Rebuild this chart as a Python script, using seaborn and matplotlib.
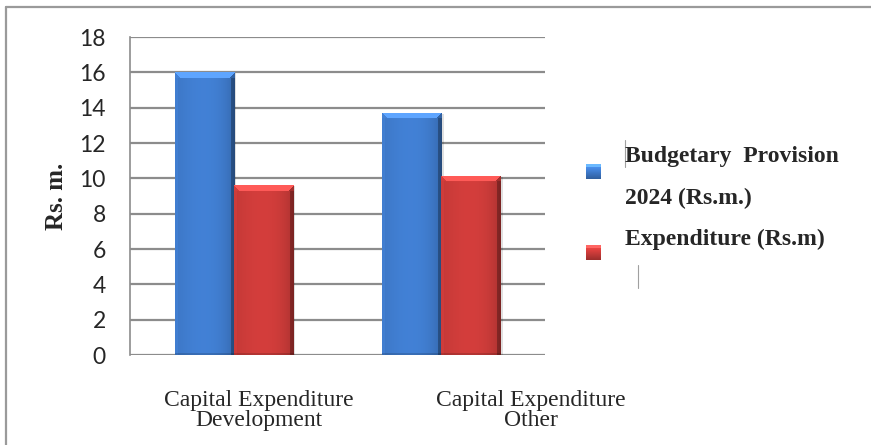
import numpy as np
import pandas as pd
import matplotlib
matplotlib.use("Agg")
import matplotlib.pyplot as plt
import seaborn as sns
from matplotlib.colors import to_rgb
from matplotlib.patches import Rectangle
from matplotlib.lines import Line2D
from matplotlib.transforms import ScaledTranslation

# ---- data -------------------------------------------------------------
categories = ["Capital Expenditure\nDevelopment", "Capital Expenditure\nOther"]
series_names = ["Budgetary  Provision\n2024 (Rs.m.)", "Expenditure (Rs.m)"]
budget_values = [16.0, 13.7]
expenditure_values = [9.6, 10.15]
y_ticks = [0, 2, 4, 6, 8, 10, 12, 14, 16, 18]

series_colors = ["#3F7BCC", "#CA3B39"]

df = pd.DataFrame({
    "category": categories * 2,
    "series": [series_names[0]] * 2 + [series_names[1]] * 2,
    "value": budget_values + expenditure_values,
})

sns.set_style("white")
plt.rcParams["font.family"] = ["Liberation Serif", "DejaVu Serif"]

fig = plt.figure(figsize=(8.71, 4.45), dpi=100)
ax = fig.add_axes([130 / 871, 1 - 355 / 445, 415 / 871, 318 / 445])

sns.barplot(data=df, x="category", y="value", hue="series",
            palette=series_colors, width=0.57, ax=ax, legend=False,
            saturation=1, edgecolor="none", zorder=3)

ax.set_ylim(0, 18)
ax.set_xlim(-0.5, 1.5)
ax.set_yticks(y_ticks)
ax.yaxis.grid(True, color="#8C8C8C", linewidth=1.6, zorder=0)
ax.xaxis.grid(False)
for side in ["top", "right", "bottom"]:
    ax.spines[side].set_visible(False)
ax.spines["left"].set_color("#8C8C8C")
ax.spines["left"].set_linewidth(1.2)
ax.tick_params(axis="y", length=5.5, width=1.2, color="#8C8C8C", pad=12,
               labelsize=16.5)
ax.tick_params(axis="x", length=0, pad=25, labelsize=17)
for lab in ax.get_yticklabels():
    lab.set_fontfamily(["Lato", "DejaVu Sans"])
for lab in ax.get_xticklabels():
    lab.set_linespacing(0.95)

# shift the category captions to the right of the bar groups
for lab, dx in zip(ax.get_xticklabels(), [25, 90]):
    lab.set_transform(lab.get_transform() +
                      ScaledTranslation(dx / 100, 0, fig.dpi_scale_trans))

ax.set_xlabel("")
ax.set_ylabel("Rs. m.", fontsize=18, fontweight="bold", labelpad=8)

# ---- bevelled shading for every bar ----------------------------------
def bevel_image(color, nx, ny, bevel=6):
    base = np.array(to_rgb(color))
    xs = np.linspace(0, 1, nx)
    shade = 0.97 + 0.08 * np.sin(np.pi * xs) - 0.12 * xs ** 6
    img = np.ones((ny, nx, 3)) * base * shade[None, :, None]
    # left and right bevel edges
    img[:, :3] = np.clip(img[:, :3] * 1.05, 0, 1)
    img[:, -4:] = img[:, -4:] * 0.72
    # top bevel (trapezoid) lighter
    for r in range(min(bevel, ny)):
        light = np.clip(base * 1.18 + 0.08, 0, 1)
        img[r, r:nx - r] = light
        img[r, :r] = base * 1.05
        img[r, nx - r:] = base * 0.8
    # thin bottom shade
    img[-2:] = img[-2:] * 0.85
    return np.clip(img, 0, 1)

px_per_unit = 318 / 18
for bar in ax.patches:
    x0, y0 = bar.get_x(), bar.get_y()
    w, h = bar.get_width(), bar.get_height()
    if h <= 0:
        continue
    nx = 60
    ny = max(int(round(h * px_per_unit)), 2)
    img = bevel_image(bar.get_facecolor(), nx, ny)
    # soft shadow behind the bar
    ax.add_patch(Rectangle((x0 + 0.012, y0), w, h - 0.05, facecolor="#000000",
                           alpha=0.12, edgecolor="none", zorder=2.5))
    im = ax.imshow(img, extent=(x0, x0 + w, y0, y0 + h), origin="upper",
                   aspect="auto", zorder=3.5, interpolation="bilinear")
    im.set_clip_path(bar)
ax.set_xlim(-0.5, 1.5)
ax.set_ylim(0, 18)

# ---- legend ----------------------------------------------------------
def legend_swatch(color, x, y, size=15):
    base = np.array(to_rgb(color))
    img = np.ones((size, size, 3)) * base
    for r in range(size):
        img[r] = np.clip(base * (1.25 - 0.5 * r / size), 0, 1)
    img[:3] = np.clip(base * 1.3 + 0.1, 0, 1)
    fax = fig.add_axes([x / 871, 1 - (y + size) / 445, size / 871, size / 445])
    fax.imshow(img, aspect="auto", interpolation="bilinear")
    fax.set_axis_off()

legend_swatch(series_colors[0], 586, 164)
legend_swatch(series_colors[1], 586, 245)

legend_lines = ["Budgetary  Provision", "2024 (Rs.m.)", "Expenditure (Rs.m)"]
for text, ypx in zip(legend_lines, [157, 198, 239]):
    fig.text(625 / 871, 1 - ypx / 445, text, fontsize=17,
             fontweight="bold", va="center", ha="left")

# small vertical rules beside the legend text
fig.add_artist(Line2D([625 / 871, 625 / 871], [1 - 140 / 445, 1 - 167 / 445],
                      color="#A0A0A0", linewidth=0.8))
fig.add_artist(Line2D([638 / 871, 638 / 871], [1 - 265 / 445, 1 - 288 / 445],
                      color="#A0A0A0", linewidth=0.8))

# ---- frame along the left and top edges ------------------------------
fig.add_artist(Line2D([6 / 871, 6 / 871], [0, 1 - 7 / 445],
                      color="#9A9A9A", linewidth=1.6))
fig.add_artist(Line2D([6 / 871, 1], [1 - 7 / 445, 1 - 7 / 445],
                      color="#9A9A9A", linewidth=1.6))

fig.savefig("out.png", dpi=100, facecolor="white")
